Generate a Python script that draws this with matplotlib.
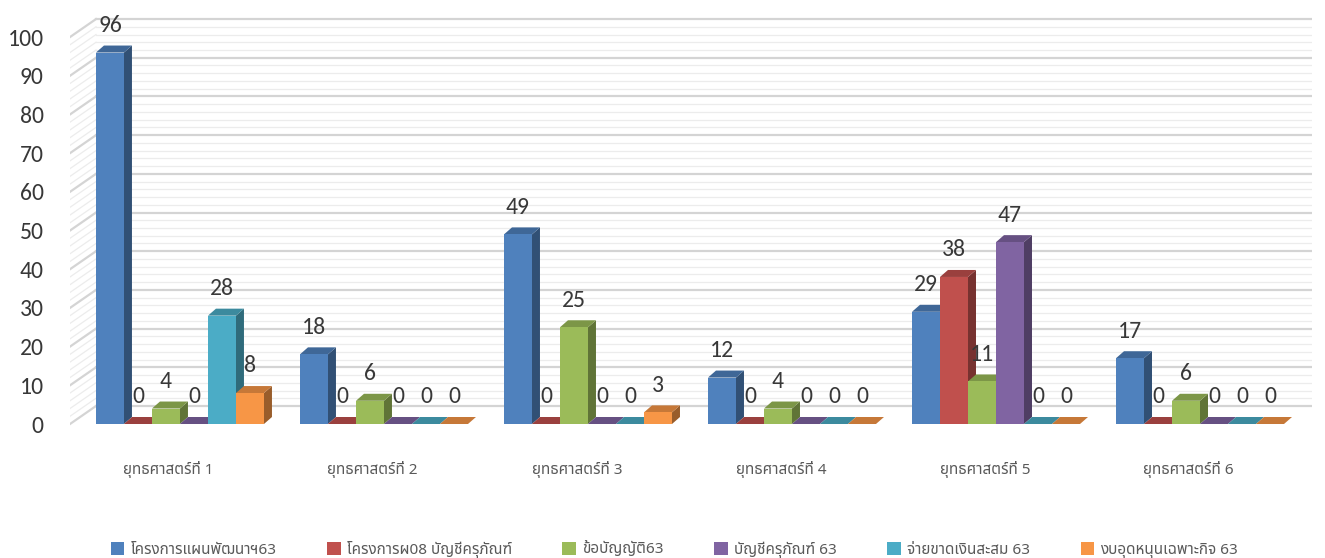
import numpy as np
import matplotlib
matplotlib.use("Agg")
import matplotlib.pyplot as plt
from matplotlib.patches import Polygon, Patch
from matplotlib.colors import to_rgb

categories = ["ยุทธศาสตร์ที่ 1", "ยุทธศาสตร์ที่ 2", "ยุทธศาสตร์ที่ 3",
              "ยุทธศาสตร์ที่ 4", "ยุทธศาสตร์ที่ 5", "ยุทธศาสตร์ที่ 6"]
series_names = ["โครงการแผนพัฒนาฯ63", "โครงการผ08 บัญชีครุภัณฑ์", "ข้อบัญญัติ63",
                "บัญชีครุภัณฑ์ 63", "จ่ายขาดเงินสะสม 63", "งบอุดหนุนเฉพาะกิจ 63"]
plan63 = [96, 18, 49, 12, 29, 17]
p08 = [0, 0, 0, 0, 38, 0]
bylaw63 = [4, 6, 25, 4, 11, 6]
equip63 = [0, 0, 0, 0, 47, 0]
reserve63 = [28, 0, 0, 0, 0, 0]
grant63 = [8, 0, 3, 0, 0, 0]
series = [plan63, p08, bylaw63, equip63, reserve63, grant63]
colors = ["#4F81BD", "#C0504D", "#9BBB59", "#8064A2", "#4BACC6", "#F79646"]

NUM_FONT = ["Carlito", "DejaVu Sans"]
THAI_FONT = ["Noto Sans Thai", "DejaVu Sans"]

fig = plt.figure(figsize=(13.25, 5.58), dpi=100)
ax = fig.add_axes([70 / 1325, 128 / 558, 1242 / 1325, 415 / 558])

px_unit = 3.87          # pixels per y unit
ax.set_xlim(-0.539, 5.549)
ax.set_ylim(-1.55, 105.7)
for s in ax.spines.values():
    s.set_visible(False)
ax.set_xticks([])

# back wall + left wall gridlines for the 3d look
wall_dy = 18 / px_unit
wall_dx = 26 / 204
x0 = -0.539
for v in np.arange(0, 101, 2):
    major = v % 10 == 0
    c = "#d4d4d4" if major else "#ececec"
    lw = 1.6 if major else 0.9
    ax.plot([x0 + wall_dx, 5.549], [v + wall_dy, v + wall_dy], color=c, lw=lw, zorder=0)
    ax.plot([x0, x0 + wall_dx], [v, v + wall_dy], color=c, lw=lw, zorder=0)

ax.set_yticks(np.arange(0, 101, 10))
ax.tick_params(axis="y", length=0, pad=19, labelsize=17, labelcolor="#383838")
for lab in ax.get_yticklabels():
    lab.set_family(NUM_FONT)

n = len(series)
bw = 28 / 204
bar_dx = 8 / 204
bar_dy = 7 / px_unit
x = np.arange(len(categories))


def shade(c, f):
    r, g, b = to_rgb(c)
    return (r * f, g * f, b * f)


# draw left to right so each bar hides the side of the one before it
for gi in range(len(categories)):
    for si in range(n):
        v = series[si][gi]
        left = x[gi] - n * bw / 2 + si * bw
        right = left + bw
        col = colors[si]
        z = 2 + si * 0.01 + gi
        side = Polygon([(right, 0), (right + bar_dx, bar_dy), (right + bar_dx, v + bar_dy), (right, v)],
                       closed=True, facecolor=shade(col, 0.62), edgecolor="none", zorder=z)
        top = Polygon([(left, v), (right, v), (right + bar_dx, v + bar_dy), (left + bar_dx, v + bar_dy)],
                      closed=True, facecolor=shade(col, 0.8), edgecolor="none", zorder=z)
        ax.add_patch(side)
        ax.add_patch(top)
        ax.bar(left, v, width=bw, align="edge", color=col, zorder=z)
        ax.text((left + right) / 2, v + 7, str(v), ha="center", va="center",
                fontsize=17, color="#383838", family=NUM_FONT, zorder=20)

for gi, cat in enumerate(categories):
    ax.text(x[gi] - 0.055, -46 / px_unit, cat, ha="center", va="center",
            fontsize=11, color="#595959", family=THAI_FONT)

handles = [Patch(facecolor=c, edgecolor="none") for c in colors]
fig.legend(handles, series_names, loc="center", bbox_to_anchor=(0.509, 1 - 549 / 558),
           ncol=6, frameon=False, prop={"family": THAI_FONT, "size": 11},
           labelcolor="#595959", handlelength=0.9, handleheight=0.9,
           handletextpad=0.4, columnspacing=3.3)

fig.savefig("out.png", dpi=100)
